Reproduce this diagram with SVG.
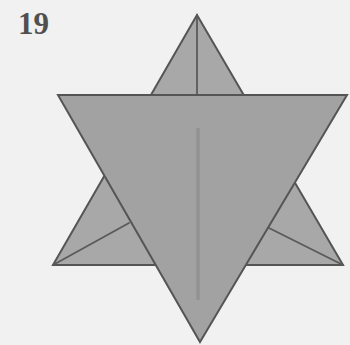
<svg xmlns="http://www.w3.org/2000/svg" width="350" height="345" viewBox="0 0 350 345">
  <style>
    .paper { fill: #a8a8a8; stroke: #555555; stroke-width: 2; stroke-linejoin: miter; }
    .front { fill: #a2a2a2; stroke: #555555; stroke-width: 2; stroke-linejoin: miter; }
    .crease { fill: none; stroke: #5a5a5a; stroke-width: 1.8; stroke-linecap: round; }
    .fold { fill: none; stroke: #929292; stroke-width: 3.5; }
    .step { font-family: "Liberation Serif", "DejaVu Serif", serif; font-weight: bold; font-size: 31px; fill: #505050; }
  </style>
  <rect width="350" height="345" fill="#f1f1f1"/>
  <text class="step" x="18" y="34">19</text>

  <!-- rear triangle, pointing up -->
  <g id="back-triangle">
    <polygon class="paper" points="197,15 343,265 53,265"/>
    <line class="crease" x1="197" y1="15" x2="197" y2="95"/>
    <line class="crease" x1="53" y1="265" x2="129" y2="223"/>
    <line class="crease" x1="343" y1="265" x2="269" y2="228"/>
  </g>

  <!-- front triangle, pointing down -->
  <g id="front-triangle">
    <polygon class="front" points="58,95 347,95 200,342"/>
    <line class="fold" x1="198" y1="128" x2="198" y2="300"/>
  </g>
</svg>
